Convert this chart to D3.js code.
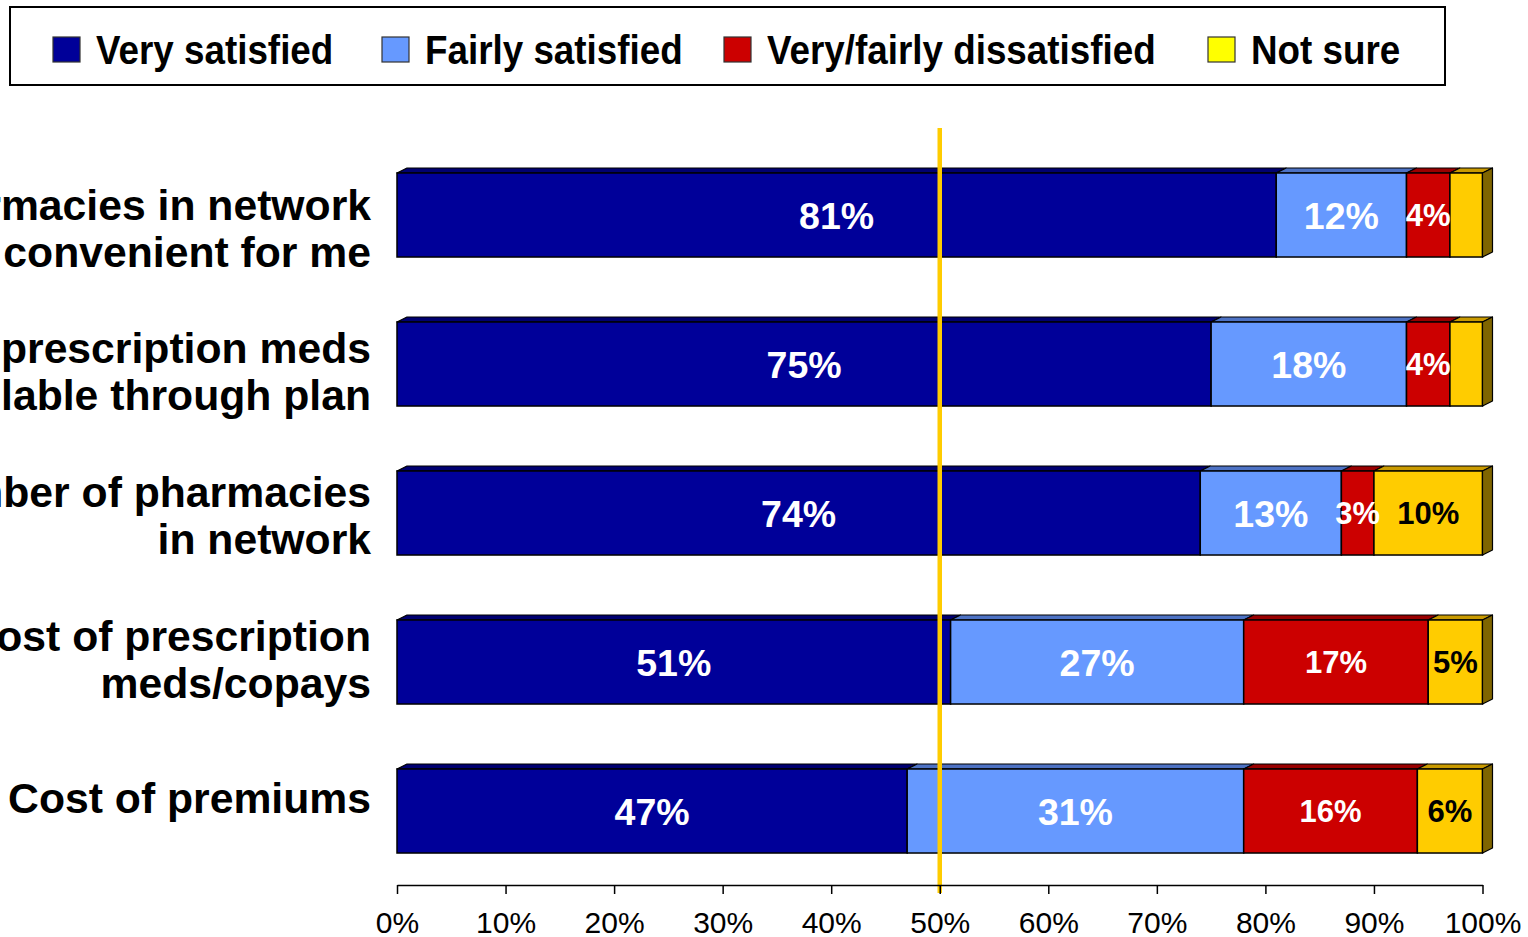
<!DOCTYPE html>
<html>
<head>
<meta charset="utf-8">
<script src="https://cdn.jsdelivr.net/npm/d3@7"></script>
<style>
  html, body { margin: 0; padding: 0; background: #fff; }
  svg { display: block; font-family: "Liberation Sans", Arial, Helvetica, sans-serif; }
</style>
</head>
<body>
<svg id="chart" width="1528" height="937"></svg>
<script>
// Survey items, top to bottom (each split into its display lines)
const categoryLines = [
  ["Pharmacies in network", "convenient for me"],
  ["Choice of prescription meds", "available through plan"],
  ["Number of pharmacies", "in network"],
  ["Cost of prescription", "meds/copays"],
  ["Cost of premiums"]
];
const seriesNames = ["Very satisfied", "Fairly satisfied", "Very/fairly dissatisfied", "Not sure"];

// Percent of respondents per item
const verySatisfied   = [81, 75, 74, 51, 47];
const fairlySatisfied = [12, 18, 13, 27, 31];
const dissatisfied    = [4, 4, 3, 17, 16];
const notSure         = [3, 3, 10, 5, 6];

const tickValues = [0, 10, 20, 30, 40, 50, 60, 70, 80, 90, 100];
const referenceLine = 50;

// Face colours: front, top, side; legend swatch colour
const frontColors  = ["#000099", "#6699FF", "#CC0000", "#FFCC00"];
const topColors    = ["#000070", "#4D72C4", "#990000", "#C99A00"];
const sideColors   = ["#00004D", "#3A5599", "#660000", "#7F6500"];
const legendColors = ["#000099", "#6699FF", "#CC0000", "#FFFF00"];
const labelColors  = ["#FFFFFF", "#FFFFFF", "#FFFFFF", "#000000"];
const labelSizes   = [37.5, 37.5, 31, 31];

const svg = d3.select("#chart");

const seriesValues = [verySatisfied, fairlySatisfied, dissatisfied, notSure];
const rows = categoryLines.map((lines, i) => {
  const r = { key: i };
  seriesNames.forEach((s, j) => r[s] = seriesValues[j][i]);
  return r;
});
const stacked = d3.stack().keys(seriesNames)(rows);

const x = d3.scaleLinear().domain([0, 100]).range([397, 1482.5]);
const y = d3.scaleBand()
  .domain(d3.range(categoryLines.length))
  .range([140.5, 885.5])
  .paddingInner(0.436)
  .paddingOuter(0.218);
const labelY = d3.scalePoint()
  .domain(d3.range(categoryLines.length))
  .range([243, 818]);

const depthX = 10, depthY = 5;

// ---- bars with a shallow 3D face ----
const barG = svg.append("g");
stacked.forEach((layer, j) => {
  const g = barG.append("g");
  layer.forEach((d, i) => {
    const x0 = x(d[0]), x1 = x(d[1]);
    const yt = y(i), yb = y(i) + y.bandwidth();
    // top face
    g.append("path")
      .attr("d", `M${x0},${yt}L${x0 + depthX},${yt - depthY}L${x1 + depthX},${yt - depthY}L${x1},${yt}Z`)
      .attr("fill", topColors[j]).attr("stroke", "#000").attr("stroke-width", 1.2)
      .attr("stroke-linejoin", "round");
    // front face
    g.append("rect")
      .attr("x", x0).attr("y", yt)
      .attr("width", x1 - x0).attr("height", yb - yt)
      .attr("fill", frontColors[j]).attr("stroke", "#000").attr("stroke-width", 1.5);
    // right side face on the last segment
    if (j === stacked.length - 1) {
      g.append("path")
        .attr("d", `M${x1},${yt}L${x1 + depthX},${yt - depthY}L${x1 + depthX},${yb - depthY}L${x1},${yb}Z`)
        .attr("fill", sideColors[j]).attr("stroke", "#000").attr("stroke-width", 1.2)
        .attr("stroke-linejoin", "round");
    }
  });
});

// ---- value labels ----
const valG = svg.append("g").attr("font-weight", "bold").attr("text-anchor", "middle");
stacked.forEach((layer, j) => {
  layer.forEach((d, i) => {
    const v = d[1] - d[0];
    if (j === 3 && v < 5) return;
    valG.append("text")
      .attr("x", x((d[0] + d[1]) / 2))
      .attr("y", y(i) + y.bandwidth() / 2 + labelSizes[j] * 0.36)
      .attr("font-size", labelSizes[j])
      .attr("fill", labelColors[j])
      .text(v + "%");
  });
});

// ---- 50% reference line ----
svg.append("line")
  .attr("x1", x(referenceLine)).attr("x2", x(referenceLine))
  .attr("y1", 128).attr("y2", 893)
  .attr("stroke", "#FFCC00").attr("stroke-width", 4.5);

// ---- category labels ----
const catG = svg.append("g").attr("font-weight", "bold").attr("font-size", 42.7)
  .attr("text-anchor", "end").attr("fill", "#000");
categoryLines.forEach((lines, i) => {
  const c = labelY(i);
  if (lines.length === 1) {
    catG.append("text").attr("x", 371).attr("y", c - 5).text(lines[0]);
  } else {
    lines.forEach((ln, k) => {
      catG.append("text").attr("x", 371).attr("y", c - 23.5 + k * 47).text(ln);
    });
  }
});

// ---- x axis ----
const axis = d3.axisBottom(x)
  .tickValues(tickValues)
  .tickFormat(d => d + "%")
  .tickSize(9)
  .tickSizeOuter(0);
const axG = svg.append("g").attr("transform", "translate(0,885)").call(axis);
axG.select(".domain").attr("stroke", "#000").attr("stroke-width", 1.5);
axG.selectAll(".tick line").attr("stroke", "#000").attr("stroke-width", 1.5);
axG.selectAll(".tick text")
  .attr("y", 48).attr("dy", 0)
  .attr("font-size", 30)
  .attr("font-family", "'Liberation Sans', Arial, sans-serif")
  .attr("fill", "#000");

// ---- legend ----
const legendX = [53, 382, 724, 1208];
svg.append("rect")
  .attr("x", 10).attr("y", 7).attr("width", 1435).attr("height", 78)
  .attr("fill", "#fff").attr("stroke", "#000").attr("stroke-width", 2);
const legG = svg.append("g");
seriesNames.forEach((name, j) => {
  legG.append("rect")
    .attr("x", legendX[j]).attr("y", 37).attr("width", 27).attr("height", 25)
    .attr("fill", legendColors[j]).attr("stroke", "#333").attr("stroke-width", 1.2);
  const t = legG.append("text")
    .attr("x", legendX[j] + 43).attr("y", 64)
    .attr("font-size", 40).attr("font-weight", "bold").attr("fill", "#000")
    .text(name);
  const w = t.node().getComputedTextLength();
  t.attr("textLength", w * 0.92).attr("lengthAdjust", "spacingAndGlyphs");
});
</script>
</body>
</html>
